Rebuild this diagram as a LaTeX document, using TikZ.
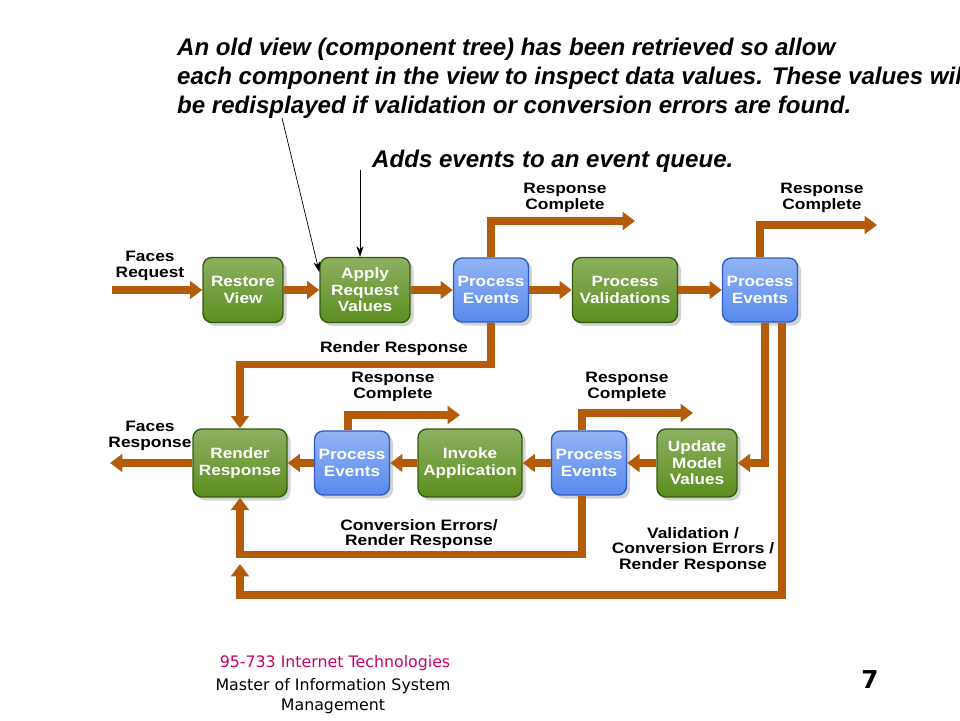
\documentclass[tikz,border=0pt]{standalone}
\usepackage{fontspec}
\setmainfont{Liberation Sans}
\newfontfamily\widefont[FakeStretch=1.15]{Liberation Sans}
\newfontfamily\footfont{DejaVu Sans}
\usetikzlibrary{arrows.meta,calc,shadows}
\definecolor{phasegreen}{RGB}{92,142,30}
\definecolor{phasegreendark}{RGB}{52,90,14}
\definecolor{eventblue}{RGB}{88,138,238}
\definecolor{eventbluedark}{RGB}{45,90,195}
\definecolor{flowbrown}{RGB}{180,92,10}
\definecolor{footpink}{RGB}{204,0,102}

\begin{document}
\begin{tikzpicture}[x=0.02cm, y=-0.02cm,
	phase/.style={rounded corners=5pt, draw=phasegreendark, line width=0.8pt, top color=phasegreen!70!white, bottom color=phasegreen, text=white, font=\widefont\fontsize{8.5}{9.4}\selectfont\bfseries, align=center, minimum height=1.3cm, inner sep=1pt, drop shadow={opacity=0.35, shadow xshift=2pt, shadow yshift=-2pt}},
	event/.style={phase, draw=eventbluedark, top color=eventblue!65!white, bottom color=eventblue, minimum width=1.5cm, minimum height=1.28cm},
	flow/.style={draw=flowbrown, line width=4pt, -{Triangle[width=10pt,length=7pt]}},
	tag/.style={font=\widefont\fontsize{8.6}{9}\selectfont\bfseries, align=center},
	note/.style={font=\fontsize{13.7}{16}\selectfont\bfseries\itshape, anchor=base west},
	pointer/.style={thin, -{Stealth[length=6pt,width=4pt]}}]
	\useasboundingbox (0,0) rectangle (960,720);
	
	% First row of phases
	\node[phase, minimum width=1.6cm] (rv) at (243,290) {Restore\\View};
	\node[phase, minimum width=1.8cm] (ap) at (365,290) {Apply\\Request\\Values};
	\node[event] (pe1) at (491,290) {Process\\Events};
	\node[phase, minimum width=2.1cm] (pv) at (625,290) {Process\\Validations};
	\node[event] (pe2) at (760,290) {Process\\Events};
	
	% Second row of phases
	\node[phase, minimum width=1.88cm, minimum height=1.36cm] (rr) at (240,463) {Render\\Response};
	\node[event] (pe3) at (352,463) {Process\\Events};
	\node[phase, minimum width=2.08cm, minimum height=1.36cm] (ia) at (470,463) {Invoke\\Application};
	\node[event] (pe4) at (589,463) {Process\\Events};
	\node[phase, minimum width=1.6cm, minimum height=1.36cm] (um) at (697,463) {Update\\Model\\Values};
	
	% Free ends of the connectors
	\coordinate (reqin) at (112,290);
	\coordinate (respout) at (110,463);
	\coordinate (rc1) at (635,221);
	\coordinate (rc2) at (877,225);
	\coordinate (rc3) at (460,415);
	\coordinate (rc4) at (693,413);
	\coordinate (loopc) at (240,595);
	\coordinate (looptip) at (240,564);
	
	% Request path
	\draw[flow] (reqin) -- (rv);
	\draw[flow] (rv) -- (ap);
	\draw[flow] (ap) -- (pe1);
	\draw[flow] (pe1) -- (pv);
	\draw[flow] (pv) -- (pe2);
	\draw[flow] (pe1.north) |- (rc1);
	\draw[flow] (pe2.north) |- (rc2);
	\draw[flow] (pe1.south) -- ++(0,42) -| (rr.north);
	\draw[flow] ($(pe2.south)+(5,0)$) |- (um.east);
	\draw[flow] ($(pe2.south)+(22,0)$) |- (loopc) -- (looptip);
	
	% Response path
	\draw[flow] (um) -- (pe4);
	\draw[flow] (pe4) -- (ia);
	\draw[flow] (ia) -- (pe3);
	\draw[flow] (pe3) -- (rr);
	\draw[flow] (rr) -- (respout);
	\draw[flow] ($(pe3.north)+(-4,0)$) |- (rc3);
	\draw[flow] ($(pe4.north)+(-7,0)$) |- (rc4);
	\draw[flow] ($(pe4.south)+(-7,0)$) -- ++(0,59) -| (rr.south);
	
	% Connector labels
	\node[tag] (freq) at (150,266) {Faces\\Request};
	\node[tag] (fresp) at (150,436) {Faces\\Response};
	\node[tag] (lrc1) at (565,198) {Response\\Complete};
	\node[tag] (lrc2) at (822,198) {Response\\Complete};
	\node[tag] (lrc3) at (393,387) {Response\\Complete};
	\node[tag] (lrc4) at (627,387) {Response\\Complete};
	\node[tag] (lrr) at (394,349) {Render Response};
	\node[tag] (lconv) at (419,534) {Conversion Errors/\\Render Response};
	\node[tag] (lval) at (693,550) {Validation /\\Conversion Errors /\\Render Response};
	
	% Notes
	\node[note] (note1) at (171,55) {An old view (component tree) has been retrieved so allow};
	\node[note] (note2) at (171,84) {each component in the view to inspect data values. These values will};
	\node[note] (note3) at (171,113) {be redisplayed if validation or conversion errors are found.};
	\node[note] (note4) at (366,167) {Adds events to an event queue.};
	\coordinate (n1) at (282,118);
	\coordinate (n2) at (360,170);
	\draw[pointer] (n1) -- ($(ap.west)+(0,-18)$);
	\draw[pointer] (n2) -- (n2 |- ap.north);
	
	% Footer
	\node[font=\footfont\fontsize{9}{10}\selectfont, text=footpink] (course) at (335,663) {95-733 Internet Technologies};
	\node[font=\footfont\fontsize{9}{11.3}\selectfont, align=center] (mism) at (333,696) {Master of Information System\\Management};
	\node[font=\footfont\bfseries\fontsize{14}{14}\selectfont] (page) at (870,680) {7};
	
\end{tikzpicture}
\end{document}
